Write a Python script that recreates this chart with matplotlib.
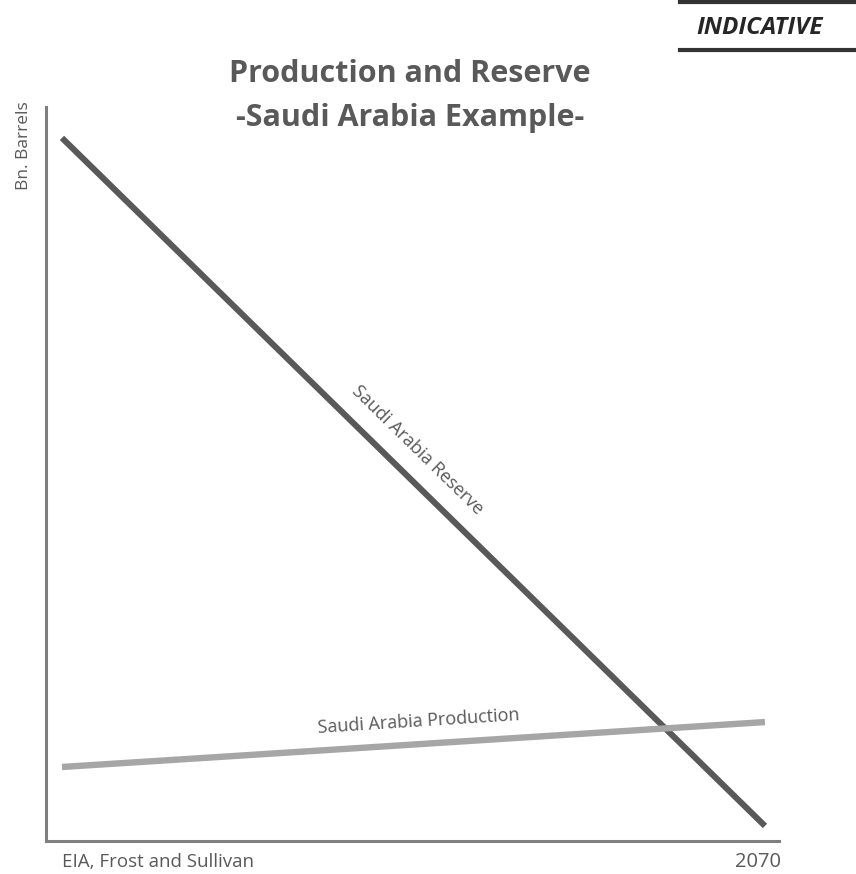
import numpy as np
import matplotlib
matplotlib.use("Agg")
import matplotlib.pyplot as plt
from matplotlib.lines import Line2D
from matplotlib.transforms import ScaledTranslation

plt.rcParams['font.family'] = ['Open Sans', 'DejaVu Sans']

# Indicative trend (bn. barrels), start year to 2070
years = [2015, 2070]
reserve = [266, 5.7]
production = [28, 45]
end_label = "2070"
source = "EIA, Frost and Sullivan"

TEXT = "#595959"
SPINE = "#7f7f7f"
RES_C = "#595959"
PROD_C = "#a6a6a6"

fig = plt.figure(figsize=(8.56, 8.74), dpi=100)
ax = fig.add_axes([46/856, 1-841/874, 733/856, 734/874])

ax.plot(years, reserve, color=RES_C, lw=4.4, solid_capstyle='butt', zorder=2)
ax.plot(years, production, color=PROD_C, lw=4.6, solid_capstyle='butt', zorder=3)

ax.set_xlim(2013.75, 2071.1)
ax.set_ylim(0, 277.7)

for s in ['top', 'right']:
    ax.spines[s].set_visible(False)
for s in ['left', 'bottom']:
    ax.spines[s].set_color(SPINE)
    ax.spines[s].set_linewidth(2.2)

ax.set_yticks([])
ax.set_xticks([years[-1]])
ax.set_xticklabels([end_label], fontsize=14.5, color=TEXT)
ax.tick_params(axis='x', length=0, pad=8)
for lab in ax.get_xticklabels():
    lab.set_horizontalalignment('right')
    lab.set_transform(lab.get_transform() + ScaledTranslation(0.16, 0, fig.dpi_scale_trans))


def line_label(xs, ys, text, frac, offset_px):
    p0 = ax.transData.transform((xs[0], ys[0]))
    p1 = ax.transData.transform((xs[1], ys[1]))
    d = p1 - p0
    ang = np.degrees(np.arctan2(d[1], d[0]))
    u = d / np.hypot(*d)
    n = np.array([-u[1], u[0]])
    if n[1] < 0:
        n = -n
    foot = (xs[0] + frac*(xs[1]-xs[0]), ys[0] + frac*(ys[1]-ys[0]))
    off = n * offset_px
    ax.annotate(text, xy=foot, xytext=(off[0], off[1]), textcoords='offset pixels',
                ha='center', va='center', rotation=ang, rotation_mode='anchor',
                fontsize=13, color=TEXT)


line_label(years, reserve, "Saudi Arabia Reserve", 0.48, 26)
line_label(years, production, "Saudi Arabia Production", 0.51, 23)

fig.text(410/856, 1-82/874, "Production and Reserve", ha='center', va='baseline',
         fontsize=22, fontweight='bold', color=TEXT)
fig.text(410/856, 1-126/874, "-Saudi Arabia Example-", ha='center', va='baseline',
         fontsize=22, fontweight='bold', color=TEXT)

fig.text(24/856, 1-146/874, "Bn. Barrels", rotation=90, ha='center', va='center',
         fontsize=12.5, color=TEXT)
fig.text(62/856, 1-862/874, source, ha='left', va='center', fontsize=13.5, color=TEXT)

# INDICATIVE tag with rules above and below
fig.add_artist(Line2D([680/856, 1], [1-2/874, 1-2/874], transform=fig.transFigure,
                      color="#333333", lw=3))
fig.add_artist(Line2D([680/856, 1], [1-50/874, 1-50/874], transform=fig.transFigure,
                      color="#333333", lw=3))
fig.text(760/856, 1-28/874, "INDICATIVE", ha='center', va='center', fontsize=17.5,
         fontweight='bold', fontstyle='italic', color="#262626")

fig.savefig("out.png", dpi=100)
